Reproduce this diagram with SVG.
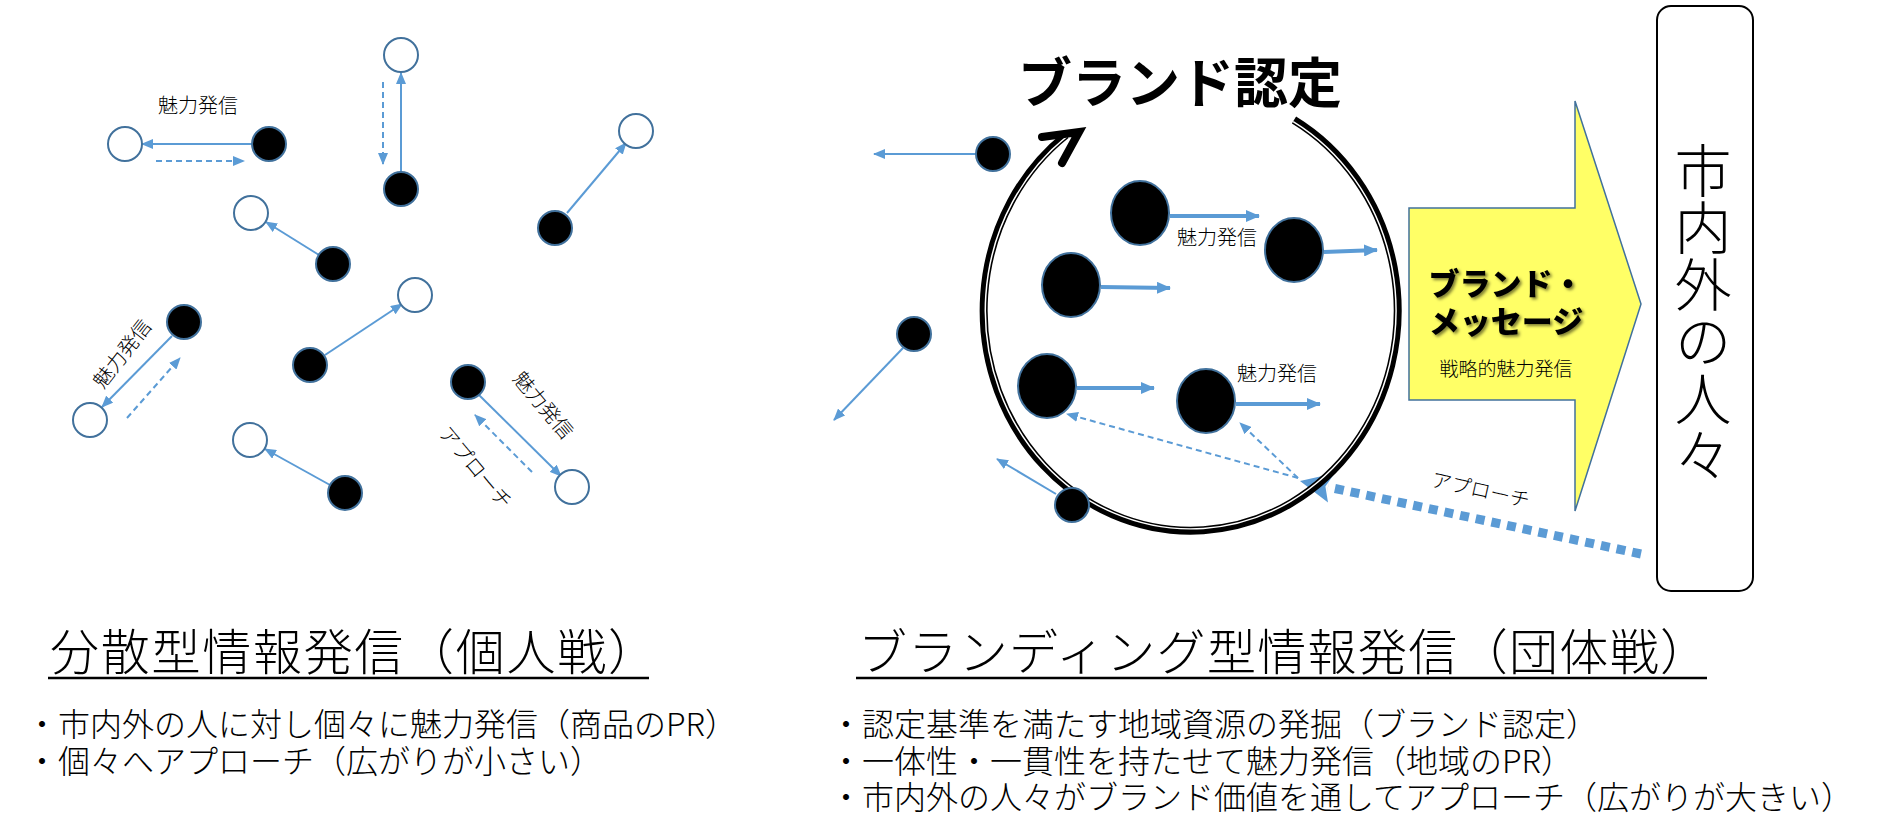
<svg xmlns="http://www.w3.org/2000/svg" width="1885" height="831" viewBox="0 0 1885 831">
<style>
text{font-family:"Noto Sans CJK JP","Noto Sans",sans-serif;fill:#000;font-weight:300}
.bk{fill:#000;stroke:#41719c;stroke-width:2}
.op{fill:#fff;stroke:#41719c;stroke-width:2}
.ln{stroke:#5b9bd5;stroke-width:2;fill:none}
.ds{stroke-dasharray:6 4}
.th{stroke-width:4}
.lbl{font-size:20px}
.ttl{font-size:49px}
.bul{font-size:32px}
</style>
<defs>
<marker id="a" viewBox="0 0 12 10" refX="11" refY="5" markerWidth="12" markerHeight="10" markerUnits="userSpaceOnUse" orient="auto"><path d="M0,0L12,5L0,10z" fill="#5b9bd5"/></marker>
<marker id="b" viewBox="0 0 14 12" refX="13" refY="6" markerWidth="14" markerHeight="12" markerUnits="userSpaceOnUse" orient="auto"><path d="M0,0L14,6L0,12z" fill="#5b9bd5"/></marker>
<filter id="sh" x="-10%" y="-20%" width="130%" height="150%"><feDropShadow dx="2" dy="2" stdDeviation="1.5" flood-color="#000" flood-opacity="0.5"/></filter>
</defs>

<g id="connectors">
<line class="ln" x1="252" y1="144" x2="142" y2="144" marker-end="url(#a)"/>
<line class="ln ds" x1="156" y1="161" x2="244" y2="161" marker-end="url(#a)"/>
<line class="ln" x1="401" y1="172" x2="401" y2="73" marker-end="url(#a)"/>
<line class="ln ds" x1="383" y1="82" x2="383" y2="164" marker-end="url(#a)"/>
<line class="ln" x1="567" y1="213" x2="626" y2="143" marker-end="url(#a)"/>
<line class="ln" x1="319" y1="255" x2="266" y2="222" marker-end="url(#a)"/>
<line class="ln" x1="325" y1="355" x2="402" y2="304" marker-end="url(#a)"/>
<line class="ln" x1="172" y1="336" x2="102" y2="407" marker-end="url(#a)"/>
<line class="ln ds" x1="127" y1="418" x2="180" y2="358" marker-end="url(#a)"/>
<line class="ln" x1="479" y1="395" x2="561" y2="476" marker-end="url(#a)"/>
<line class="ln ds" x1="532" y1="472" x2="475" y2="415" marker-end="url(#a)"/>
<line class="ln" x1="330" y1="485" x2="265" y2="449" marker-end="url(#a)"/>
<line class="ln" x1="976" y1="154" x2="874" y2="154" marker-end="url(#a)"/>
<line class="ln" x1="903" y1="348" x2="834" y2="420" marker-end="url(#a)"/>
<line class="ln" x1="1056" y1="494" x2="997" y2="459" marker-end="url(#a)"/>
<line class="ln th" x1="1170" y1="216" x2="1259" y2="216" marker-end="url(#b)"/>
<line class="ln th" x1="1324" y1="252" x2="1377" y2="250" marker-end="url(#b)"/>
<line class="ln th" x1="1101" y1="287" x2="1170" y2="288" marker-end="url(#b)"/>
<line class="ln th" x1="1077" y1="388" x2="1154" y2="388" marker-end="url(#b)"/>
<line class="ln th" x1="1236" y1="404" x2="1320" y2="404" marker-end="url(#b)"/>
<line class="ln ds" x1="1298" y1="478" x2="1067" y2="414" marker-end="url(#a)"/>
<line class="ln ds" x1="1298" y1="478" x2="1240" y2="423" marker-end="url(#a)"/>
<line x1="1641" y1="554" x2="1328" y2="487" stroke="#5b9bd5" stroke-width="9" stroke-dasharray="9 7"/>
<polygon points="1300,481 1334.6,473.2 1325.4,486.6 1328,502.6" fill="#5b9bd5"/>
</g>

<g id="ring">
<path d="M1294,120 A207,220 0 1,1 1066,135" fill="none" stroke="#000" stroke-width="8"/>
<path d="M1294,120 A207,220 0 1,1 1066,135" fill="none" stroke="#fff" stroke-width="1.5" transform="translate(1190,310) scale(0.992) translate(-1190,-310)"/>
<polyline points="1042,137 1079,132 1062,163" fill="none" stroke="#000" stroke-width="8" stroke-linejoin="miter" stroke-linecap="round"/>
</g>

<g id="left-nodes">
<circle id="l-o1" class="op" cx="125" cy="144" r="17"/>
<circle id="l-b1" class="bk" cx="269" cy="144" r="17"/>
<circle id="l-o2" class="op" cx="401" cy="55" r="17"/>
<circle id="l-b2" class="bk" cx="401" cy="189" r="17"/>
<circle id="l-o3" class="op" cx="636" cy="131" r="17"/>
<circle id="l-b3" class="bk" cx="555" cy="228" r="17"/>
<circle id="l-o4" class="op" cx="251" cy="213" r="17"/>
<circle id="l-b4" class="bk" cx="333" cy="264" r="17"/>
<circle id="l-o5" class="op" cx="415" cy="295" r="17"/>
<circle id="l-b5" class="bk" cx="310" cy="365" r="17"/>
<circle id="l-b6" class="bk" cx="184" cy="322" r="17"/>
<circle id="l-o6" class="op" cx="90" cy="420" r="17"/>
<circle id="l-b7" class="bk" cx="468" cy="382" r="17"/>
<circle id="l-o7" class="op" cx="572" cy="487" r="17"/>
<circle id="l-o8" class="op" cx="250" cy="440" r="17"/>
<circle id="l-b8" class="bk" cx="345" cy="493" r="17"/>
</g>
<g id="left-labels">
<text class="lbl" x="198" y="113" text-anchor="middle">魅力発信</text>
<text class="lbl" transform="translate(128,358) rotate(-52)" text-anchor="middle">魅力発信</text>
<text class="lbl" transform="translate(538,410) rotate(50)" text-anchor="middle">魅力発信</text>
<text class="lbl" transform="translate(470,472) rotate(50)" text-anchor="middle">アプローチ</text>
</g>

<g id="right-nodes">
<circle id="r-s1" class="bk" cx="993" cy="154" r="17"/>
<circle id="r-s2" class="bk" cx="914" cy="334" r="17"/>
<circle id="r-s3" class="bk" cx="1072" cy="505" r="17"/>
<ellipse id="r-b1" class="bk" cx="1140" cy="213" rx="29" ry="32"/>
<ellipse id="r-b2" class="bk" cx="1294" cy="250" rx="29" ry="32"/>
<ellipse id="r-b3" class="bk" cx="1071" cy="285" rx="29" ry="32"/>
<ellipse id="r-b4" class="bk" cx="1047" cy="386" rx="29" ry="32"/>
<ellipse id="r-b5" class="bk" cx="1206" cy="401" rx="29" ry="32"/>
<text class="lbl" x="1217" y="245" text-anchor="middle">魅力発信</text>
<text class="lbl" x="1277" y="381" text-anchor="middle">魅力発信</text>
<text x="1180" y="103" text-anchor="middle" font-size="54" style="font-weight:bold">ブランド認定</text>
<text class="lbl" transform="translate(1479,497) rotate(12.5)" text-anchor="middle" font-size="19">アプローチ</text>
</g>

<g id="brand-message">
<polygon points="1409,208 1575,208 1575,101 1641,304 1575,511 1575,400 1409,400" fill="#ffff66" stroke="#41719c" stroke-width="1.5"/>
<text x="1506" y="295" text-anchor="middle" font-size="31" style="font-weight:900" filter="url(#sh)">ブランド・</text>
<text x="1506" y="333" text-anchor="middle" font-size="31" style="font-weight:900" filter="url(#sh)">メッセージ</text>
<text x="1506" y="376" text-anchor="middle" font-size="19">戦略的魅力発信</text>
</g>

<g id="people">
<rect x="1657" y="6" width="96" height="585" rx="14" fill="#fff" stroke="#000" stroke-width="2"/>
<text x="1703" y="142" font-size="57" writing-mode="vertical-rl">市内外の人々</text>
</g>

<g id="left-caption">
<text class="ttl" x="50" y="670" textLength="607" lengthAdjust="spacing">分散型情報発信（個人戦）</text>
<line x1="48" y1="678" x2="649" y2="678" stroke="#000" stroke-width="2.5"/>
<text class="bul" x="26" y="736">・市内外の人に対し個々に魅力発信（商品のPR）</text>
<text class="bul" x="26" y="773">・個々へアプローチ（広がりが小さい）</text>
</g>
<g id="right-caption">
<text class="ttl" x="858" y="670" textLength="851" lengthAdjust="spacing">ブランディング型情報発信（団体戦）</text>
<line x1="856" y1="678" x2="1707" y2="678" stroke="#000" stroke-width="2.5"/>
<text class="bul" x="830" y="736">・認定基準を満たす地域資源の発掘（ブランド認定）</text>
<text class="bul" x="830" y="773">・一体性・一貫性を持たせて魅力発信（地域のPR）</text>
<text class="bul" x="830" y="809">・市内外の人々がブランド価値を通してアプローチ（広がりが大きい）</text>
</g>
</svg>
